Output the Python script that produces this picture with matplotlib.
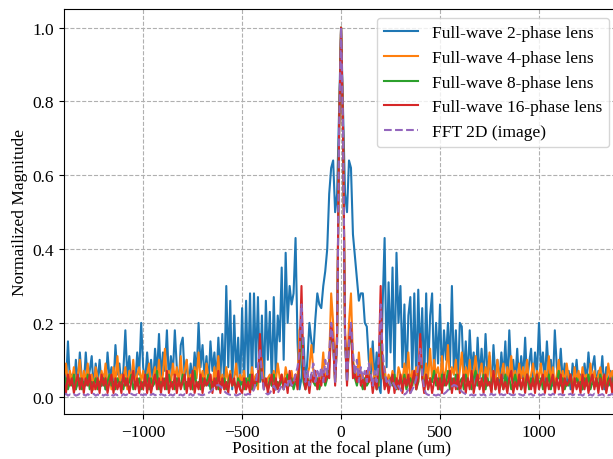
import numpy as np
import matplotlib
matplotlib.use("Agg")
import matplotlib.pyplot as plt

plt.rcParams['font.family'] = ['Liberation Serif', 'DejaVu Serif']
plt.rcParams['font.size'] = 12.5

# sample grid of the focal plane (um)
position = np.arange(-1400, 1401, 10)

# Full-wave 2-phase lens
mag_2phase = [
    0.08, 0.03, 0.15, 0.04, 0.06, 0.02, 0.10, 0.03, 0.12, 0.05,
    0.03, 0.12, 0.04, 0.07, 0.11, 0.02, 0.09, 0.04, 0.10, 0.03,
    0.06, 0.02, 0.12, 0.05, 0.08, 0.03, 0.14, 0.06, 0.09, 0.03,
    0.07, 0.18, 0.05, 0.11, 0.04, 0.08, 0.03, 0.12, 0.06, 0.20,
    0.08, 0.04, 0.12, 0.05, 0.10, 0.03, 0.13, 0.06, 0.17, 0.05,
    0.12, 0.07, 0.18, 0.04, 0.11, 0.06, 0.18, 0.08, 0.03, 0.14,
    0.16, 0.05, 0.10, 0.03, 0.09, 0.04, 0.12, 0.06, 0.20, 0.08,
    0.14, 0.05, 0.11, 0.03, 0.15, 0.07, 0.12, 0.04, 0.16, 0.05,
    0.17, 0.03, 0.30, 0.08, 0.26, 0.02, 0.22, 0.06, 0.16, 0.02,
    0.24, 0.03, 0.26, 0.05, 0.28, 0.02, 0.28, 0.08, 0.27, 0.04,
    0.22, 0.02, 0.26, 0.10, 0.23, 0.03, 0.27, 0.06, 0.22, 0.15,
    0.35, 0.10, 0.39, 0.20, 0.30, 0.25, 0.28, 0.43, 0.15, 0.02,
    0.05, 0.16, 0.03, 0.10, 0.20, 0.15, 0.12, 0.21, 0.28, 0.25,
    0.24, 0.30, 0.34, 0.40, 0.55, 0.62, 0.64, 0.50, 0.55, 0.78,
    1.00,
    0.78, 0.55, 0.50, 0.64, 0.62, 0.44, 0.38, 0.32, 0.26, 0.28,
    0.28, 0.20, 0.19, 0.10, 0.06, 0.15, 0.04, 0.12, 0.03, 0.01,
    0.25, 0.43, 0.08, 0.31, 0.12, 0.35, 0.05, 0.39, 0.20, 0.30,
    0.08, 0.25, 0.03, 0.22, 0.27, 0.06, 0.28, 0.04, 0.29, 0.10,
    0.24, 0.03, 0.28, 0.07, 0.22, 0.28, 0.05, 0.20, 0.09, 0.25,
    0.04, 0.18, 0.10, 0.20, 0.08, 0.30, 0.06, 0.18, 0.03, 0.20,
    0.19, 0.05, 0.15, 0.04, 0.18, 0.07, 0.12, 0.03, 0.16, 0.05,
    0.13, 0.04, 0.17, 0.06, 0.11, 0.02, 0.14, 0.05, 0.10, 0.04,
    0.12, 0.05, 0.15, 0.03, 0.18, 0.06, 0.10, 0.04, 0.13, 0.03,
    0.11, 0.05, 0.16, 0.04, 0.09, 0.13, 0.03, 0.12, 0.06, 0.20,
    0.07, 0.12, 0.04, 0.15, 0.06, 0.10, 0.03, 0.18, 0.08, 0.05,
    0.13, 0.04, 0.09, 0.03, 0.07, 0.02, 0.09, 0.04, 0.10, 0.03,
    0.06, 0.02, 0.09, 0.04, 0.12, 0.05, 0.08, 0.11, 0.03, 0.07,
    0.04, 0.11, 0.02, 0.08, 0.03, 0.07, 0.02, 0.05, 0.08, 0.03,
]

# Full-wave 4-phase lens
mag_4phase = [
    0.05, 0.09, 0.03, 0.07, 0.04, 0.08, 0.02, 0.06, 0.10, 0.03,
    0.07, 0.04, 0.09, 0.03, 0.06, 0.02, 0.08, 0.05, 0.03, 0.07,
    0.04, 0.09, 0.03, 0.06, 0.02, 0.08, 0.04, 0.11, 0.03, 0.06,
    0.05, 0.08, 0.02, 0.07, 0.04, 0.10, 0.03, 0.06, 0.08, 0.04,
    0.07, 0.03, 0.06, 0.09, 0.02, 0.05, 0.08, 0.04, 0.10, 0.03,
    0.06, 0.13, 0.04, 0.07, 0.03, 0.09, 0.05, 0.08, 0.03, 0.11,
    0.04, 0.07, 0.10, 0.03, 0.06, 0.02, 0.08, 0.05, 0.12, 0.04,
    0.07, 0.03, 0.09, 0.05, 0.06, 0.02, 0.08, 0.04, 0.11, 0.03,
    0.06, 0.02, 0.08, 0.04, 0.07, 0.03, 0.05, 0.09, 0.03, 0.06,
    0.04, 0.07, 0.02, 0.05, 0.03, 0.08, 0.04, 0.06, 0.02, 0.12,
    0.10, 0.04, 0.03, 0.05, 0.06, 0.03, 0.07, 0.04, 0.09, 0.05,
    0.06, 0.03, 0.08, 0.05, 0.04, 0.07, 0.03, 0.06, 0.05, 0.18,
    0.20, 0.05, 0.03, 0.06, 0.08, 0.14, 0.07, 0.05, 0.03, 0.06,
    0.05, 0.12, 0.04, 0.07, 0.10, 0.28, 0.20, 0.06, 0.18, 0.72,
    1.00,
    0.72, 0.18, 0.06, 0.20, 0.28, 0.10, 0.07, 0.04, 0.12, 0.05,
    0.06, 0.03, 0.07, 0.05, 0.13, 0.08, 0.04, 0.06, 0.03, 0.20,
    0.05, 0.08, 0.03, 0.06, 0.04, 0.07, 0.05, 0.03, 0.08, 0.06,
    0.04, 0.09, 0.05, 0.12, 0.03, 0.07, 0.05, 0.08, 0.04, 0.15,
    0.06, 0.04, 0.09, 0.05, 0.13, 0.04, 0.10, 0.06, 0.08, 0.03,
    0.11, 0.05, 0.07, 0.14, 0.04, 0.08, 0.06, 0.10, 0.03, 0.07,
    0.12, 0.04, 0.08, 0.05, 0.10, 0.03, 0.07, 0.11, 0.04, 0.06,
    0.09, 0.03, 0.08, 0.05, 0.12, 0.04, 0.07, 0.03, 0.10, 0.05,
    0.06, 0.09, 0.03, 0.08, 0.05, 0.11, 0.04, 0.07, 0.03, 0.09,
    0.05, 0.08, 0.04, 0.10, 0.03, 0.06, 0.09, 0.04, 0.07, 0.05,
    0.09, 0.03, 0.07, 0.05, 0.11, 0.04, 0.08, 0.03, 0.06, 0.10,
    0.04, 0.07, 0.03, 0.09, 0.05, 0.06, 0.02, 0.08, 0.04, 0.07,
    0.03, 0.08, 0.05, 0.06, 0.02, 0.09, 0.04, 0.07, 0.03, 0.06,
    0.08, 0.04, 0.06, 0.03, 0.09, 0.05, 0.07, 0.03, 0.06, 0.04,
]

# Full-wave 8-phase lens
mag_8phase = [
    0.03, 0.05, 0.02, 0.04, 0.03, 0.06, 0.02, 0.04, 0.05, 0.02,
    0.04, 0.03, 0.06, 0.02, 0.04, 0.03, 0.05, 0.02, 0.04, 0.03,
    0.05, 0.02, 0.04, 0.06, 0.03, 0.04, 0.02, 0.05, 0.03, 0.04,
    0.02, 0.05, 0.03, 0.04, 0.06, 0.02, 0.04, 0.03, 0.05, 0.02,
    0.04, 0.03, 0.06, 0.02, 0.05, 0.03, 0.04, 0.07, 0.02, 0.04,
    0.03, 0.05, 0.02, 0.06, 0.03, 0.04, 0.02, 0.05, 0.04, 0.03,
    0.06, 0.02, 0.04, 0.03, 0.05, 0.02, 0.07, 0.03, 0.04, 0.02,
    0.05, 0.03, 0.04, 0.06, 0.02, 0.04, 0.03, 0.05, 0.02, 0.04,
    0.03, 0.05, 0.02, 0.04, 0.06, 0.03, 0.04, 0.02, 0.05, 0.03,
    0.04, 0.02, 0.05, 0.03, 0.06, 0.02, 0.04, 0.03, 0.05, 0.12,
    0.05, 0.03, 0.04, 0.02, 0.05, 0.03, 0.06, 0.02, 0.04, 0.03,
    0.05, 0.02, 0.04, 0.06, 0.03, 0.05, 0.02, 0.04, 0.03, 0.08,
    0.22, 0.04, 0.02, 0.05, 0.03, 0.06, 0.04, 0.03, 0.05, 0.02,
    0.04, 0.06, 0.03, 0.05, 0.08, 0.18, 0.14, 0.04, 0.15, 0.72,
    1.00,
    0.72, 0.15, 0.04, 0.14, 0.18, 0.08, 0.05, 0.03, 0.06, 0.04,
    0.02, 0.05, 0.03, 0.04, 0.06, 0.03, 0.05, 0.02, 0.04, 0.22,
    0.08, 0.03, 0.04, 0.02, 0.05, 0.03, 0.06, 0.02, 0.04, 0.05,
    0.03, 0.06, 0.02, 0.04, 0.05, 0.03, 0.06, 0.02, 0.04, 0.12,
    0.05, 0.03, 0.06, 0.02, 0.05, 0.04, 0.07, 0.03, 0.05, 0.02,
    0.06, 0.03, 0.04, 0.07, 0.02, 0.05, 0.03, 0.06, 0.02, 0.04,
    0.05, 0.02, 0.06, 0.03, 0.04, 0.02, 0.05, 0.07, 0.03, 0.04,
    0.03, 0.06, 0.02, 0.05, 0.03, 0.04, 0.06, 0.02, 0.05, 0.03,
    0.04, 0.02, 0.06, 0.03, 0.05, 0.02, 0.04, 0.06, 0.03, 0.05,
    0.02, 0.04, 0.03, 0.06, 0.02, 0.05, 0.03, 0.04, 0.06, 0.03,
    0.05, 0.02, 0.04, 0.03, 0.06, 0.02, 0.05, 0.03, 0.04, 0.07,
    0.03, 0.05, 0.02, 0.04, 0.03, 0.06, 0.02, 0.04, 0.05, 0.03,
    0.04, 0.02, 0.05, 0.03, 0.06, 0.02, 0.04, 0.03, 0.05, 0.02,
    0.06, 0.03, 0.04, 0.02, 0.05, 0.03, 0.04, 0.06, 0.02, 0.04,
]

# Full-wave 16-phase lens
mag_16phase = [
    0.04, 0.01, 0.06, 0.03, 0.05, 0.01, 0.04, 0.06, 0.02, 0.05,
    0.01, 0.05, 0.03, 0.06, 0.01, 0.04, 0.02, 0.05, 0.01, 0.06,
    0.03, 0.05, 0.01, 0.04, 0.06, 0.01, 0.05, 0.02, 0.04, 0.01,
    0.06, 0.03, 0.05, 0.01, 0.04, 0.07, 0.02, 0.05, 0.01, 0.04,
    0.02, 0.06, 0.01, 0.05, 0.01, 0.04, 0.06, 0.02, 0.05, 0.01,
    0.05, 0.02, 0.07, 0.01, 0.04, 0.02, 0.06, 0.01, 0.05, 0.02,
    0.04, 0.06, 0.01, 0.05, 0.02, 0.07, 0.01, 0.04, 0.02, 0.06,
    0.01, 0.05, 0.03, 0.04, 0.06, 0.01, 0.05, 0.02, 0.07, 0.01,
    0.05, 0.02, 0.04, 0.01, 0.06, 0.03, 0.05, 0.01, 0.04, 0.02,
    0.01, 0.05, 0.02, 0.04, 0.01, 0.06, 0.02, 0.05, 0.04, 0.17,
    0.06, 0.02, 0.05, 0.01, 0.04, 0.06, 0.01, 0.05, 0.02, 0.04,
    0.06, 0.02, 0.05, 0.01, 0.07, 0.03, 0.04, 0.06, 0.02, 0.10,
    0.30, 0.06, 0.02, 0.05, 0.01, 0.06, 0.04, 0.07, 0.02, 0.05,
    0.03, 0.07, 0.04, 0.06, 0.05, 0.20, 0.15, 0.03, 0.17, 0.72,
    1.00,
    0.72, 0.17, 0.03, 0.15, 0.20, 0.05, 0.06, 0.04, 0.07, 0.03,
    0.05, 0.02, 0.07, 0.04, 0.06, 0.01, 0.05, 0.02, 0.08, 0.30,
    0.07, 0.02, 0.05, 0.01, 0.04, 0.06, 0.01, 0.05, 0.02, 0.06,
    0.01, 0.05, 0.03, 0.06, 0.01, 0.04, 0.07, 0.02, 0.05, 0.17,
    0.05, 0.01, 0.06, 0.02, 0.05, 0.01, 0.04, 0.06, 0.02, 0.05,
    0.01, 0.06, 0.03, 0.04, 0.07, 0.01, 0.05, 0.02, 0.06, 0.01,
    0.04, 0.06, 0.01, 0.05, 0.02, 0.07, 0.01, 0.04, 0.06, 0.02,
    0.05, 0.01, 0.06, 0.03, 0.04, 0.01, 0.07, 0.02, 0.05, 0.01,
    0.06, 0.02, 0.04, 0.01, 0.05, 0.07, 0.01, 0.04, 0.02, 0.06,
    0.02, 0.05, 0.01, 0.06, 0.04, 0.02, 0.05, 0.01, 0.06, 0.02,
    0.04, 0.06, 0.01, 0.05, 0.02, 0.04, 0.06, 0.01, 0.05, 0.02,
    0.06, 0.01, 0.05, 0.03, 0.04, 0.06, 0.01, 0.05, 0.02, 0.04,
    0.01, 0.06, 0.02, 0.05, 0.01, 0.04, 0.06, 0.02, 0.05, 0.01,
    0.05, 0.02, 0.06, 0.01, 0.04, 0.05, 0.01, 0.06, 0.02, 0.04,
]

# FFT 2D (image)
mag_fft = [
    0.005, 0.008, 0.003, 0.006, 0.004, 0.007, 0.003, 0.005, 0.008, 0.004,
    0.006, 0.003, 0.007, 0.004, 0.005, 0.008, 0.003, 0.006, 0.004, 0.007,
    0.003, 0.006, 0.004, 0.008, 0.005, 0.003, 0.007, 0.004, 0.006, 0.003,
    0.007, 0.004, 0.006, 0.003, 0.008, 0.005, 0.004, 0.007, 0.003, 0.006,
    0.004, 0.007, 0.003, 0.006, 0.005, 0.008, 0.004, 0.006, 0.003, 0.007,
    0.005, 0.003, 0.008, 0.004, 0.006, 0.003, 0.007, 0.005, 0.004, 0.006,
    0.003, 0.007, 0.005, 0.004, 0.008, 0.003, 0.006, 0.004, 0.007, 0.005,
    0.004, 0.006, 0.008, 0.010, 0.014, 0.020, 0.026, 0.030, 0.032, 0.028,
    0.022, 0.015, 0.010, 0.007, 0.005, 0.004, 0.006, 0.003, 0.005, 0.008,
    0.004, 0.006, 0.005, 0.008, 0.006, 0.010, 0.020, 0.040, 0.080, 0.130,
    0.060, 0.020, 0.010, 0.006, 0.010, 0.020, 0.030, 0.020, 0.010, 0.020,
    0.030, 0.020, 0.040, 0.030, 0.050, 0.030, 0.040, 0.060, 0.080, 0.120,
    0.250, 0.100, 0.040, 0.070, 0.030, 0.060, 0.090, 0.040, 0.070, 0.050,
    0.080, 0.040, 0.100, 0.060, 0.120, 0.200, 0.150, 0.040, 0.150, 0.720,
    1.000,
    0.720, 0.150, 0.040, 0.150, 0.200, 0.120, 0.060, 0.100, 0.040, 0.080,
    0.050, 0.070, 0.040, 0.090, 0.060, 0.030, 0.070, 0.040, 0.100, 0.250,
    0.120, 0.070, 0.040, 0.050, 0.030, 0.040, 0.030, 0.020, 0.030, 0.020,
    0.010, 0.006, 0.010, 0.020, 0.010, 0.020, 0.030, 0.050, 0.080, 0.130,
    0.060, 0.020, 0.008, 0.005, 0.004, 0.006, 0.005, 0.003, 0.006, 0.004,
    0.005, 0.008, 0.012, 0.018, 0.024, 0.028, 0.032, 0.030, 0.026, 0.020,
    0.014, 0.010, 0.007, 0.005, 0.004, 0.006, 0.003, 0.005, 0.004, 0.006,
    0.004, 0.007, 0.003, 0.006, 0.005, 0.008, 0.004, 0.006, 0.003, 0.005,
    0.007, 0.004, 0.006, 0.003, 0.008, 0.005, 0.004, 0.006, 0.003, 0.007,
    0.005, 0.003, 0.007, 0.004, 0.006, 0.008, 0.003, 0.005, 0.004, 0.006,
    0.004, 0.007, 0.005, 0.003, 0.006, 0.004, 0.008, 0.005, 0.003, 0.006,
    0.007, 0.004, 0.005, 0.003, 0.006, 0.008, 0.004, 0.006, 0.003, 0.005,
    0.006, 0.003, 0.007, 0.005, 0.004, 0.006, 0.003, 0.008, 0.005, 0.004,
    0.005, 0.007, 0.003, 0.006, 0.004, 0.005, 0.008, 0.003, 0.006, 0.004,
]

fig = plt.figure(figsize=(6.13, 4.6), dpi=100)
ax = fig.add_axes([0.1044, 0.0978, 0.904, 0.880])

ax.plot(position, mag_2phase, label='Full-wave 2-phase lens')
ax.plot(position, mag_4phase, label='Full-wave 4-phase lens')
ax.plot(position, mag_8phase, label='Full-wave 8-phase lens')
ax.plot(position, mag_16phase, label='Full-wave 16-phase lens')
ax.plot(position, mag_fft, '--', label='FFT 2D (image)')

ax.set_xlim(-1400, 1400)
ax.set_xlabel('Position at the focal plane (um)', labelpad=0)
ax.set_ylabel('Normailized Magnitude', labelpad=3)
ax.grid(True, linestyle='--')
ax.legend(loc='upper right')

fig.savefig('out.png', dpi=100)
